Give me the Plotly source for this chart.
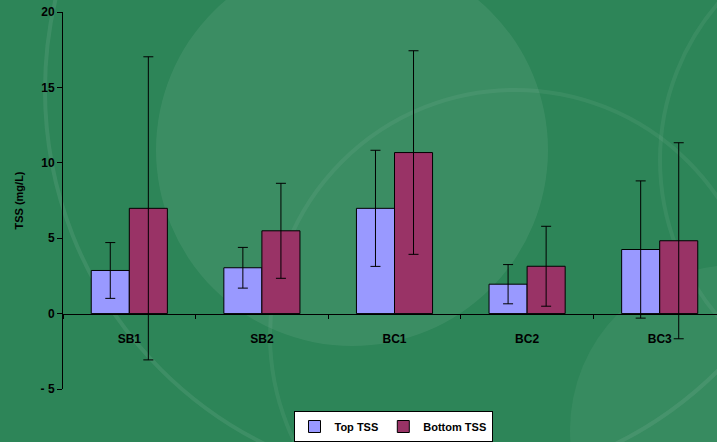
import plotly.graph_objects as go

categories = ["SB1", "SB2", "BC1", "BC2", "BC3"]
top_tss = [2.86, 3.04, 6.98, 1.95, 4.25]
top_err = [1.85, 1.35, 3.85, 1.30, 4.55]
bottom_tss = [6.98, 5.49, 10.68, 3.14, 4.83]
bottom_err = [10.05, 3.15, 6.75, 2.65, 6.50]
ytick_vals = [-5, 0, 5, 10, 15, 20]
ytick_text = ["- 5", "0", "5", "10", "15", "20"]

W, H = 717, 442
FONT = "Liberation Sans, Arial, sans-serif"

fig = go.Figure()
fig.add_trace(go.Bar(
    name="Top TSS", x=categories, y=top_tss,
    marker=dict(color="#9999ff", line=dict(color="black", width=1)),
    error_y=dict(type="data", array=top_err, color="black", thickness=1, width=5),
))
fig.add_trace(go.Bar(
    name="Bottom TSS", x=categories, y=bottom_tss,
    marker=dict(color="#993366", line=dict(color="black", width=1)),
    error_y=dict(type="data", array=bottom_err, color="black", thickness=1, width=5),
))

L, R, T, B = 63, 0, 12, 53
PW, PH = W - L - R, H - T - B

def cpx(x):
    return (x - L) / PW

def cpy(y):
    return (H - B - y) / PH

def circ(cx, cy, r, fill=None, line=None, lw=0):
    return dict(type="circle", xref="paper", yref="paper", layer="below",
                x0=cpx(cx - r), x1=cpx(cx + r), y0=cpy(cy + r), y1=cpy(cy - r),
                fillcolor=fill or "rgba(0,0,0,0)",
                line=dict(color=line or "rgba(0,0,0,0)", width=lw))

shapes = [
    circ(352, 150, 196, fill="rgba(255,255,255,0.07)"),
    circ(440, 90, 395, line="rgba(255,255,255,0.08)", lw=4),
    circ(515, 335, 245, line="rgba(255,255,255,0.06)", lw=4),
    circ(735, 430, 165, fill="rgba(255,255,255,0.05)"),
    circ(900, 160, 240, line="rgba(255,255,255,0.06)", lw=4),
]

n = len(categories)
clip = (726 - 717) / 132.5

fig.update_layout(
    width=W, height=H,
    margin=dict(l=L, r=R, t=T, b=B, pad=0, autoexpand=False),
    paper_bgcolor="#2d8558",
    plot_bgcolor="rgba(0,0,0,0)",
    barmode="group",
    bargap=0.426,
    bargroupgap=0,
    font=dict(family=FONT, color="black", size=11),
    showlegend=True,
    legend=dict(
        orientation="h", x=(393 - L) / PW, xanchor="center",
        y=(H - B - 442) / PH, yanchor="bottom",
        bgcolor="white", bordercolor="black", borderwidth=1,
        font=dict(family=FONT, size=11, color="black", weight="bold"),
        itemwidth=30, tracegroupgap=0,
    ),
    xaxis=dict(
        type="category", range=[-0.5, n - 0.5 - clip],
        anchor="free", position=0.2,
        showline=True, linecolor="black", linewidth=1,
        ticks="outside", ticklen=4, tickcolor="black", tickson="boundaries",
        showgrid=False, zeroline=False,
        tickfont=dict(family=FONT, size=12, color="black", weight="bold"),
        ticklabelstandoff=14,
    ),
    yaxis=dict(
        range=[-5, 20], tickvals=ytick_vals, ticktext=ytick_text,
        showline=True, linecolor="black", linewidth=1,
        ticks="outside", ticklen=5, tickcolor="black",
        showgrid=False, zeroline=False,
        tickfont=dict(family=FONT, size=12, color="black", weight="bold"),
        title=dict(text="TSS (mg/L)", standoff=14,
                   font=dict(family=FONT, size=11, color="black", weight="bold")),
    ),
    shapes=shapes,
)

fig.write_html("out.html", config={"displayModeBar": False},
               post_script="document.body.style.margin='0';document.body.style.overflow='hidden';")
